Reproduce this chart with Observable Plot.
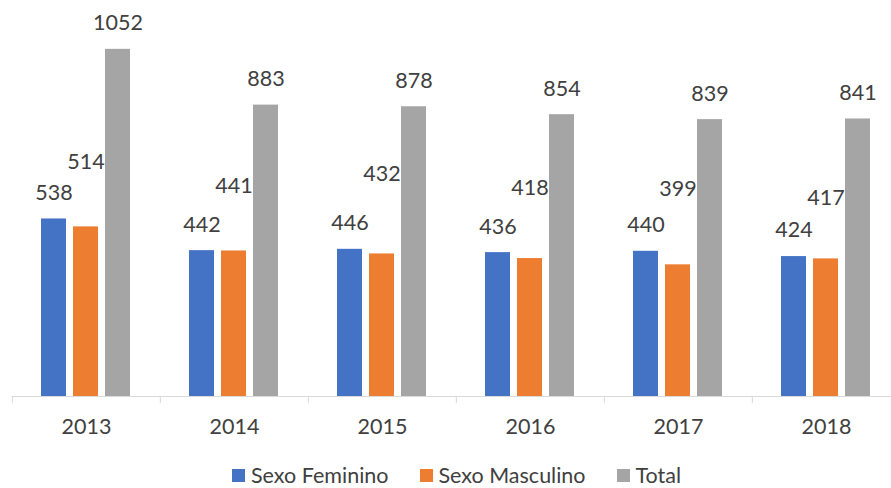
<!DOCTYPE html>
<html>
<head>
<meta charset="utf-8">
<script src="https://cdn.jsdelivr.net/npm/d3@7"></script>
<script src="https://cdn.jsdelivr.net/npm/@observablehq/plot@0.6"></script>
<style>
  html, body { margin: 0; padding: 0; background: #fff; overflow: hidden; width: 891px; height: 488px; }
  #chart { position: absolute; left: 0; top: 0; width: 901px; }
  #chart svg { max-width: none !important; }
  #legend { position: absolute; left: 232px; top: 463px; display: flex; align-items: center;
            font-family: Lato, sans-serif; font-size: 21.5px; line-height: 24px; color: #404040; white-space: nowrap; }
  .item { display: flex; align-items: center; margin-right: 31px; }
  .sw { width: 13px; height: 13px; margin-right: 6px; }
</style>
</head>
<body>
<div id="chart"></div>
<div id="legend"></div>
<script>
const years = ["2013", "2014", "2015", "2016", "2017", "2018"];
const feminino = [538, 442, 446, 436, 440, 424];
const masculino = [514, 441, 432, 418, 399, 417];
const total = [1052, 883, 878, 854, 839, 841];
const seriesNames = ["Sexo Feminino", "Sexo Masculino", "Total"];
const seriesColors = ["#4472C4", "#ED7D31", "#A5A5A5"];
// label lift above the bar (px), as placed in the original
const labelLift = 26;
const mascLabelLift = [65, 65, 80, 70, 76, 61];

const seriesValues = [feminino, masculino, total];
const rows = years.flatMap((year, i) =>
  seriesNames.map((s, k) => ({year, series: s, value: seriesValues[k][i], i}))
);

const W = 901, ML = 11, MR = 0;
const band = (W - ML - MR) / years.length;
const textColor = "#404040";
const fs = 21.5;

const mascMarks = rows.filter(d => d.series === "Sexo Masculino").map(d =>
  Plot.text([d], {fx: "year", x: "series", y: "value", text: d => String(d.value),
    dy: -mascLabelLift[d.i], fill: textColor, fontSize: fs})
);

const chart = Plot.plot({
  width: W, height: 458,
  marginTop: 0, marginLeft: ML, marginRight: MR, marginBottom: 62,
  style: {fontFamily: "Lato, sans-serif", fontSize: fs + "px", color: textColor, background: "#fff", overflow: "visible", maxWidth: "none"},
  fx: {domain: years, padding: 0, label: null},
  x: {domain: seriesNames, paddingInner: 0.21, paddingOuter: 0.88, axis: null},
  y: {domain: [0, 1200], axis: null},
  color: {domain: seriesNames, range: seriesColors},
  marks: [
    Plot.barY(rows, {fx: "year", x: "series", y: "value", fill: "series"}),
    Plot.ruleY([0], {stroke: "#D9D9D9", strokeWidth: 1}),
    Plot.axisFx({anchor: "bottom", tickSize: 7, text: null, label: null, dx: -band / 2, stroke: "#D9D9D9", strokeOpacity: 1}),
    Plot.axisFx({anchor: "bottom", tickSize: 0, tickPadding: 22, label: null, fill: textColor, fontSize: fs}),
    Plot.text(rows.filter(d => d.series !== "Sexo Masculino"),
      {fx: "year", x: "series", y: "value", text: d => String(d.value), dy: -labelLift, fill: textColor, fontSize: fs}),
    ...mascMarks
  ]
});
document.getElementById("chart").appendChild(chart);

const legend = document.getElementById("legend");
seriesNames.forEach((s, k) => {
  const item = document.createElement("div");
  item.className = "item";
  const sw = document.createElement("span");
  sw.className = "sw";
  sw.style.background = seriesColors[k];
  const label = document.createElement("span");
  label.textContent = s;
  item.appendChild(sw);
  item.appendChild(label);
  legend.appendChild(item);
});
</script>
</body>
</html>
